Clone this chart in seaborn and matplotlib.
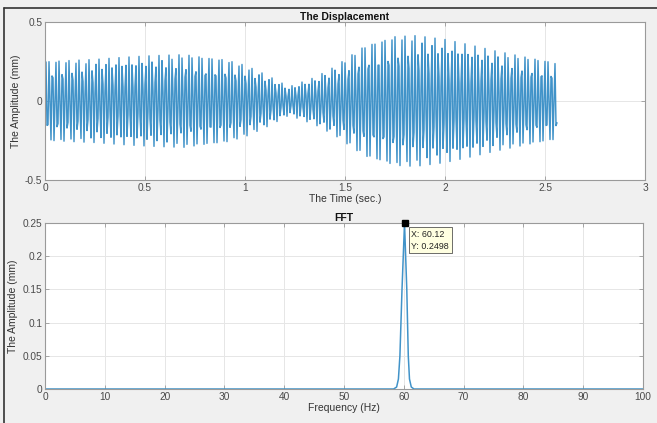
import numpy as np
import pandas as pd
import matplotlib
matplotlib.use("Agg")
import matplotlib.pyplot as plt
from matplotlib.lines import Line2D
import seaborn as sns

# ---------------- data ----------------
sample_rate_hz = 200.0          # FFT axis ends at the Nyquist frequency, 100 Hz
duration_s = 2.56               # signal ends at 2.56 s
carrier_hz = 60.12              # data tip X value
# envelope of the displacement signal (mm), read at these times
env_t = [0.0, 0.25, 0.5, 0.7, 0.9, 1.0, 1.1, 1.22, 1.35, 1.45, 1.6, 1.75, 1.85, 2.0, 2.25, 2.56]
env_a = [0.26, 0.265, 0.285, 0.30, 0.27, 0.23, 0.17, 0.09, 0.15, 0.22, 0.36, 0.42, 0.42, 0.39, 0.32, 0.25]

# FFT peak shape
fft_freq = [0.0, 58.3, 58.8, 59.1, 59.35, 59.7, 60.12, 60.5, 60.75, 60.95, 61.25, 61.7, 100.0]
fft_amp = [0.0, 0.0, 0.003, 0.015, 0.05, 0.15, 0.2498, 0.15, 0.05, 0.015, 0.003, 0.0, 0.0]
tip_x, tip_y = 60.12, 0.2498

time_ticks = [0, 0.5, 1, 1.5, 2, 2.5, 3]
time_labels = ["0", "0.5", "1", "1.5", "2", "2.5", "3"]
disp_ticks = [-0.5, 0, 0.5]
disp_labels = ["-0.5", "0", "0.5"]
freq_ticks = list(range(0, 101, 10))
amp_ticks = [0, 0.05, 0.1, 0.15, 0.2, 0.25]
amp_labels = ["0", "0.05", "0.1", "0.15", "0.2", "0.25"]

# ---------------- build the sampled signal ----------------
n = int(round(duration_s * sample_rate_hz))
t = np.arange(n + 1) / sample_rate_hz
disp = np.interp(t, env_t, env_a) * np.sin(2 * np.pi * carrier_hz * t)
df_disp = pd.DataFrame({"t": t, "d": disp})
df_fft = pd.DataFrame({"f": fft_freq, "a": fft_amp})

# ---------------- style ----------------
sns.set_theme(style="white")
plt.rcParams["font.family"] = ["Liberation Sans", "DejaVu Sans"]
line_c = "#4193c9"
spine_c = "#9a9a9a"
text_c = "#4a4a4a"
grid_c = "#e6e6e6"

fig = plt.figure(figsize=(6.57, 4.23), dpi=100, facecolor="#f0f0f0")
W, H = 657.0, 423.0
ax1 = fig.add_axes([45 / W, 1 - 180 / H, 600 / W, 158 / H])
ax2 = fig.add_axes([45 / W, 1 - 389 / H, 598 / W, 166 / H])

sns.lineplot(data=df_disp, x="t", y="d", ax=ax1, color=line_c, lw=1.05,
             estimator=None, sort=False)
sns.lineplot(data=df_fft, x="f", y="a", ax=ax2, color=line_c, lw=1.1,
             estimator=None, sort=False)

def style(ax, xt, xl, yt, yl, xlim, ylim):
    ax.set_facecolor("white")
    ax.set_xlim(*xlim)
    ax.set_ylim(*ylim)
    ax.set_xticks(xt)
    ax.set_xticklabels(xl)
    ax.set_yticks(yt)
    ax.set_yticklabels(yl)
    ax.grid(True, color=grid_c, lw=0.7)
    ax.set_axisbelow(True)
    for s in ax.spines.values():
        s.set_color(spine_c)
        s.set_linewidth(0.8)
    ax.tick_params(direction="in", length=3, width=0.6, color=spine_c,
                   labelsize=7.3, labelcolor=text_c, top=True, right=True,
                   bottom=True, left=True, pad=2)

style(ax1, time_ticks, time_labels, disp_ticks, disp_labels, (0, 3), (-0.5, 0.5))
style(ax2, freq_ticks, [str(v) for v in freq_ticks], amp_ticks, amp_labels, (0, 100), (0, 0.25))

ax1.set_xlabel("The Time (sec.)", fontsize=7.5, color="#333333", labelpad=1)
ax1.set_ylabel("The Amplitude (mm)", fontsize=7.5, color="#333333", labelpad=3)
ax1.set_title("The Displacement", fontsize=7.5, fontweight="bold", color="#111111", pad=1.5)
ax2.set_xlabel("Frequency (Hz)", fontsize=7.5, color="#333333", labelpad=1)
ax2.set_ylabel("The Amplitude (mm)", fontsize=7.5, color="#333333", labelpad=3)
ax2.set_title("FFT", fontsize=7.5, fontweight="bold", color="#111111", pad=1.5)

# data tip
ax2.plot([tip_x], [tip_y], marker="s", ms=4, color="black", clip_on=False, zorder=5)
ax2.annotate("X: 60.12\nY: 0.2498", xy=(tip_x, tip_y), xytext=(5, -5),
             textcoords="offset points", ha="left", va="top", fontsize=6.4,
             color="#222222", linespacing=1.35,
             bbox=dict(boxstyle="square,pad=0.3", fc="#ffffe1", ec="#333333", lw=0.5))

# screenshot frame lines
fig.add_artist(Line2D([4 / W, 1], [1 - 8 / H, 1 - 8 / H], color="#333333", lw=1.2))
fig.add_artist(Line2D([4 / W, 4 / W], [0, 1 - 8 / H], color="#333333", lw=1.2))

fig.savefig("out.png", dpi=100, facecolor=fig.get_facecolor())
